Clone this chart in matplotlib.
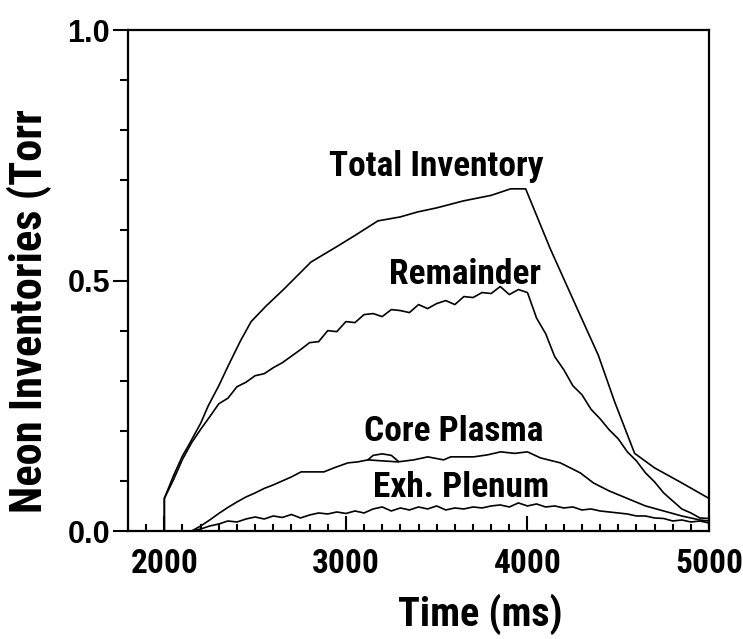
import matplotlib
matplotlib.use('Agg')
import matplotlib.pyplot as plt
from matplotlib import font_manager as fm
from matplotlib.ticker import MultipleLocator

# total inventory (Torr)
total_t = [1950, 2000, 2000, 2050, 2100, 2132, 2200, 2242, 2300, 2352, 2420, 2478,
           2560, 2659, 2808, 2956, 3050, 3176, 3300, 3396, 3500, 3648, 3800, 3907,
           3990, 4126, 4275, 4390, 4480, 4590, 4700, 4850, 5000]
total_v = [0.0, 0.0, 0.065, 0.11, 0.15, 0.17, 0.215, 0.25, 0.29, 0.33, 0.38, 0.418,
           0.449, 0.483, 0.537, 0.569, 0.59, 0.619, 0.627, 0.637, 0.645, 0.659, 0.670, 0.683,
           0.683, 0.563, 0.443, 0.351, 0.258, 0.155, 0.126, 0.096, 0.065]

# remainder
rem_t = [1950, 2000, 2000, 2050, 2100, 2150, 2200, 2250, 2300, 2350, 2400, 2450, 2500,
         2550, 2600, 2650, 2700, 2750, 2800, 2850, 2900, 2950, 3000, 3050, 3100,
         3150, 3200, 3250, 3300, 3350, 3400, 3450, 3500, 3550, 3600, 3650, 3700,
         3750, 3800, 3850, 3900, 3950, 4000, 4050, 4100, 4150, 4200, 4250, 4300,
         4350, 4400, 4450, 4500, 4550, 4600, 4650, 4700, 4750, 4800, 4850, 4900,
         4950, 5000]
rem_v = [0.0, 0.0, 0.065, 0.102, 0.143, 0.176, 0.203, 0.228, 0.254, 0.265, 0.288, 0.297, 0.310,
         0.314, 0.326, 0.336, 0.349, 0.362, 0.376, 0.378, 0.400, 0.398, 0.418, 0.416, 0.432,
         0.434, 0.428, 0.442, 0.440, 0.436, 0.452, 0.444, 0.454, 0.460, 0.452, 0.468, 0.466,
         0.476, 0.474, 0.488, 0.472, 0.482, 0.476, 0.425, 0.394, 0.348, 0.322, 0.290, 0.272,
         0.243, 0.224, 0.202, 0.184, 0.158, 0.140, 0.116, 0.098, 0.076, 0.060, 0.044, 0.036,
         0.026, 0.025]

# core plasma
core_t = [2150, 2200, 2250, 2300, 2350, 2400, 2450, 2500, 2550, 2600, 2650, 2700, 2753,
          2879, 2934, 3011, 3066, 3121, 3200, 3286, 3374, 3451, 3538, 3577, 3703, 3780,
          3852, 3930, 4000, 4071, 4181, 4291, 4363, 4450, 4550, 4650, 4750, 4850, 4950, 5000]
core_v = [0.0, 0.01, 0.022, 0.035, 0.047, 0.058, 0.068, 0.076, 0.085, 0.092, 0.10, 0.108, 0.118,
          0.118, 0.126, 0.136, 0.138, 0.142, 0.140, 0.138, 0.142, 0.148, 0.142, 0.148, 0.148, 0.152,
          0.158, 0.155, 0.158, 0.146, 0.136, 0.116, 0.096, 0.080, 0.065, 0.050, 0.040, 0.030, 0.022, 0.02]
# little loop drawn over the core plasma trace
core_arc_t = [3121, 3150, 3200, 3250, 3286]
core_arc_v = [0.142, 0.151, 0.154, 0.151, 0.140]

# exhaust plenum
exh_t = [2150, 2200, 2250, 2300, 2350, 2400, 2450, 2500, 2550, 2600, 2650, 2700, 2750,
         2800, 2850, 2900, 2950, 3000, 3050, 3100, 3150, 3200, 3250, 3300, 3350, 3400,
         3450, 3500, 3550, 3600, 3650, 3700, 3750, 3800, 3850, 3900, 3950, 4000, 4050,
         4100, 4150, 4200, 4250, 4300, 4350, 4400, 4450, 4500, 4550, 4600, 4650, 4700,
         4750, 4800, 4850, 4900, 4950, 5000]
exh_v = [0.0, 0.004, 0.010, 0.014, 0.020, 0.018, 0.024, 0.028, 0.024, 0.030, 0.027, 0.033, 0.026,
         0.032, 0.036, 0.034, 0.038, 0.035, 0.040, 0.036, 0.044, 0.048, 0.040, 0.046, 0.042, 0.048,
         0.044, 0.050, 0.042, 0.046, 0.044, 0.048, 0.046, 0.050, 0.052, 0.048, 0.056, 0.050, 0.054,
         0.048, 0.050, 0.046, 0.048, 0.042, 0.044, 0.040, 0.038, 0.036, 0.034, 0.030, 0.030, 0.026,
         0.025, 0.020, 0.022, 0.018, 0.020, 0.016]

x_ticks = [2000, 3000, 4000, 5000]
y_ticks = [0.0, 0.5, 1.0]

# curve names, with the spot (time, value) where each name ends on the right
names = ['Total Inventory', 'Remainder', 'Core Plasma', 'Exh. Plenum']
name_t = [4087, 4076, 4087, 4120]
name_v = [0.727, 0.513, 0.198, 0.086]


def pick_narrow():
    # look for a condensed bold sans, fall back to plain Liberation Sans
    fonts = fm.fontManager.ttflist
    have = {f.name for f in fonts}
    for name in ['Liberation Sans Narrow', 'Arial Narrow', 'Roboto Condensed',
                 'Open Sans Condensed', 'Noto Sans Condensed']:
        if name in have:
            return dict(family=name)
    for name in ['Noto Sans', 'DejaVu Sans', 'Open Sans', 'Roboto']:
        for f in fonts:
            if f.name == name and 'condensed' in str(f.stretch):
                return dict(family=name, stretch='condensed')
    return dict(family='Liberation Sans')


NF = pick_narrow()
WF = dict(family='Liberation Sans')

fig = plt.figure(figsize=(7.43, 6.39), dpi=100)
ax = fig.add_axes([0.1723, 0.169, 0.782, 0.784])

for t, v in [(total_t, total_v), (rem_t, rem_v), (core_t, core_v), (exh_t, exh_v),
             (core_arc_t, core_arc_v)]:
    ax.plot(t, v, color='black', lw=1.2)

ax.set_xlim(1800, 5000)
ax.set_ylim(0, 1.0)
ax.set_xticks(x_ticks)
ax.set_xticklabels([str(x) for x in x_ticks], weight='bold', fontsize=24, **NF)
ax.set_yticks(y_ticks)
ax.set_yticklabels(['{:.1f}'.format(y) for y in y_ticks], weight='bold', fontsize=22, **WF)
ax.xaxis.set_minor_locator(MultipleLocator(100))
ax.yaxis.set_minor_locator(MultipleLocator(0.1))
ax.tick_params(axis='x', which='both', direction='in', width=1.5, pad=12, top=False)
ax.tick_params(axis='x', which='major', length=11)
ax.tick_params(axis='x', which='minor', length=5)
ax.tick_params(axis='y', which='both', direction='out', width=1.5, pad=2, right=False)
ax.tick_params(axis='y', which='major', length=11)
ax.tick_params(axis='y', which='minor', length=6)
for s in ax.spines.values():
    s.set_linewidth(1.6)

ax.set_xlabel('Time (ms)', weight='bold', fontsize=29, **NF)
ax.xaxis.set_label_coords(0.607, -0.125)
ax.set_ylabel('Neon Inventories (Torr', weight='bold', fontsize=32, **NF)
ax.yaxis.set_label_coords(-0.13, 0.44)

for name, t, v in zip(names, name_t, name_v):
    ax.text(t, v, name, weight='bold', fontsize=25.5, ha='right', va='center', **NF)

fig.savefig('out.png', dpi=100)
